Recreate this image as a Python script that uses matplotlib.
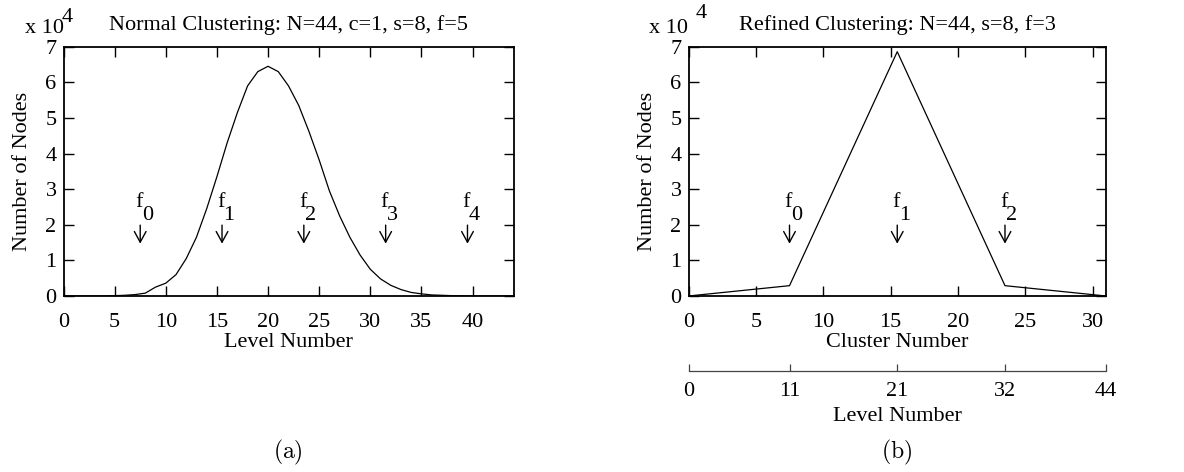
import matplotlib
matplotlib.use('Agg')
import matplotlib.pyplot as plt

plt.rcParams['font.family'] = ['Liberation Serif', 'DejaVu Serif']
plt.rcParams['mathtext.fontset'] = 'cm'
plt.rcParams['font.size'] = 16

# ==========================================
# data (values in units of 10^4 nodes)
# ==========================================
levels = list(range(0, 45))
normal_nodes = [0, 0, 0, 0, 0, 0.01, 0.02, 0.04, 0.08, 0.25,
                0.36, 0.6, 1.05, 1.65, 2.45, 3.35, 4.3, 5.15, 5.9, 6.3,
                6.45, 6.3, 5.9, 5.35, 4.62, 3.82, 2.95, 2.25, 1.65, 1.15,
                0.75, 0.48, 0.3, 0.18, 0.1, 0.06, 0.03, 0.02, 0.01, 0.005,
                0, 0, 0, 0, 0]
normal_f = [7.5, 15.5, 23.5, 31.5, 39.5]

clusters = [0, 7.5, 15.5, 23.5, 31]
refined_nodes = [0, 0.29, 6.86, 0.29, 0]
refined_f = [7.5, 15.5, 23.5]

# level number axis under the cluster axis
level_tick_pos = [0, 7.5, 15.5, 23.5, 31]
level_tick_lab = ['0', '11', '21', '32', '44']

W, H = 1184, 472
fig = plt.figure(figsize=(W / 100, H / 100), dpi=100)


def px_axes(x0, y0, x1, y1):
    # pixel box (top-left origin) -> figure fraction
    return fig.add_axes([x0 / W, 1 - y1 / H, (x1 - x0) / W, (y1 - y0) / H])


def style_axes(ax):
    for s in ax.spines.values():
        s.set_linewidth(1.3)
    ax.tick_params(direction='in', length=7, width=1.0, top=True, right=True,
                   labelsize=16)
    ax.tick_params(axis='x', pad=12)
    ax.tick_params(axis='y', pad=5)


def draw_markers(ax, xs, dx):
    for i, x in enumerate(xs):
        ax.annotate('', xy=(x, 1.47), xytext=(x, 1.99),
                    arrowprops=dict(arrowstyle='->,head_length=0.55,head_width=0.3',
                                    mutation_scale=14, lw=1.0, color='black',
                                    shrinkA=0, shrinkB=0))
        ax.text(x - 5 * dx, 2.5, 'f', ha='left', va='baseline', fontsize=16)
        ax.text(x + 1.5 * dx, 2.13, str(i), ha='left', va='baseline', fontsize=16)


# [a] normal clustering
ax1 = px_axes(63.5, 46.7, 513.5, 296)
ax1.plot(levels, normal_nodes, color='black', linewidth=0.9)
ax1.set_xlim(0, 44)
ax1.set_ylim(0, 7)
ax1.set_xticks(range(0, 41, 5))
ax1.set_yticks(range(0, 8))
style_axes(ax1)
draw_markers(ax1, normal_f, 44 / 450)
ax1.set_title('Normal Clustering: N=44, c=1, s=8, f=5', fontsize=16, pad=12)
ax1.set_xlabel('Level Number', fontsize=16, labelpad=1)
ax1.set_ylabel('Number of Nodes', fontsize=16, labelpad=10)
fig.text(25 / W, 1 - 33 / H, 'x 10', fontsize=16, ha='left', va='baseline')
fig.text(62 / W, 1 - 22 / H, '4', fontsize=16, ha='left', va='baseline')

# [b] refined clustering
ax2 = px_axes(688.5, 46.7, 1106, 296)
ax2.plot(clusters, refined_nodes, color='black', linewidth=0.9)
ax2.set_xlim(0, 31)
ax2.set_ylim(0, 7)
ax2.set_xticks(range(0, 31, 5))
ax2.set_yticks(range(0, 8))
style_axes(ax2)
draw_markers(ax2, refined_f, 31 / 417.5)
ax2.set_title('Refined Clustering: N=44, s=8, f=3', fontsize=16, pad=12)
ax2.set_xlabel('Cluster Number', fontsize=16, labelpad=1)
ax2.set_ylabel('Number of Nodes', fontsize=16, labelpad=10)
fig.text(649 / W, 1 - 33 / H, 'x 10', fontsize=16, ha='left', va='baseline')
fig.text(696 / W, 1 - 18 / H, '4', fontsize=16, ha='left', va='baseline')

ax3 = px_axes(688.5, 365, 1106, 371)
for s in ['top', 'left', 'right']:
    ax3.spines[s].set_visible(False)
ax3.spines['bottom'].set_linewidth(0.9)
ax3.spines['bottom'].set_color('#444444')
ax3.set_xlim(0, 31)
ax3.set_yticks([])
ax3.set_xticks(level_tick_pos)
ax3.set_xticklabels(level_tick_lab)
ax3.tick_params(axis='x', direction='in', length=5, width=0.9, color='#444444',
                pad=8, labelsize=16)
ax3.patch.set_alpha(0)
ax3.set_xlabel('Level Number', fontsize=16, labelpad=4)

fig.text(288 / W, 1 - 452 / H, r'$\mathrm{(a)}$', ha='center', va='center', fontsize=17)
fig.text(897 / W, 1 - 452 / H, r'$\mathrm{(b)}$', ha='center', va='center', fontsize=17)

fig.savefig('out.png', dpi=100)
plt.close('all')
